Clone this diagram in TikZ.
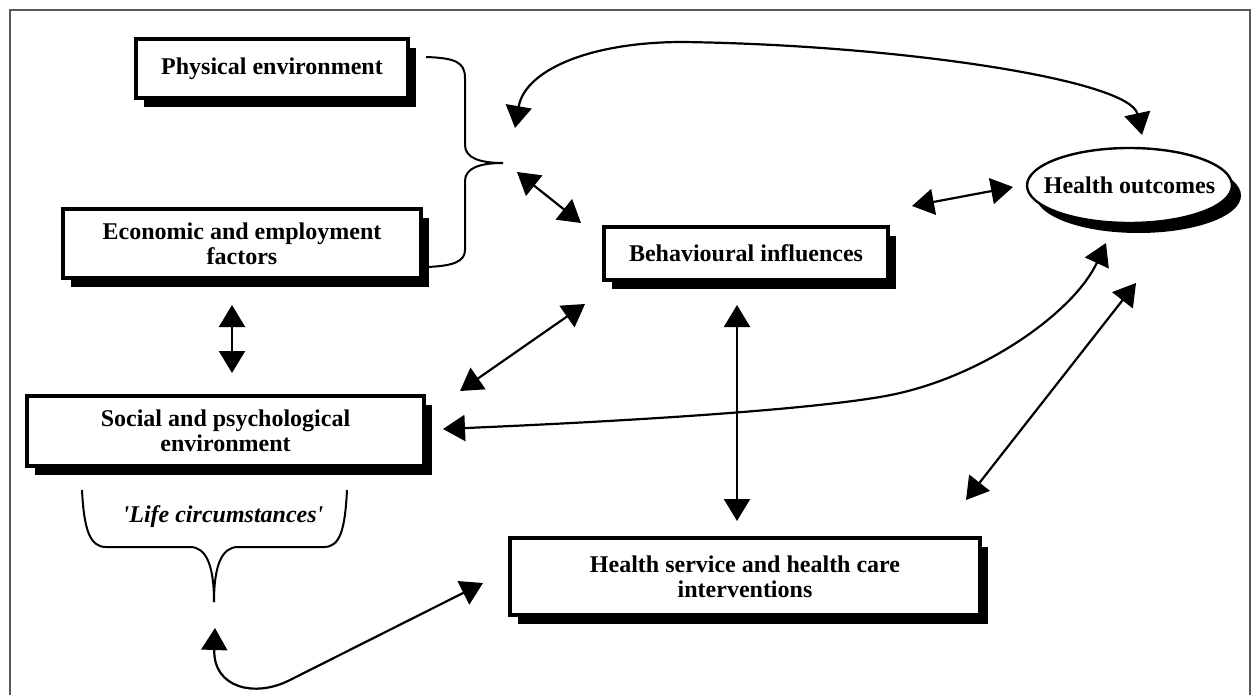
\documentclass[tikz,border=0pt]{standalone}
\usepackage{fontspec}
\setmainfont{Liberation Serif}
\usetikzlibrary{arrows.meta,shadows,shapes.geometric}
\begin{document}
\begin{tikzpicture}[x=0.5pt,y=-0.5pt,
    font=\fontsize{12}{12.5}\selectfont\bfseries,
    >={Triangle[width=13pt,length=11pt]},
    box/.style={draw,line width=1.6pt,fill=white,align=center,
      drop shadow={shadow xshift=4pt,shadow yshift=-4.5pt,fill=black,opacity=1}},
    outcome/.style={ellipse,draw,line width=1.2pt,fill=white,inner sep=0pt,
      drop shadow={shadow xshift=4.5pt,shadow yshift=-5pt,fill=black,opacity=1}},
    link/.style={<->,line width=1.1pt},
    brace/.style={line width=1pt}]
    \useasboundingbox (0,0) rectangle (1257,695);
    \draw [gray!70!black,line width=0.6pt] (10,695) -- (10,10) -- (1250,10) -- (1250,695);
    % boxes
    \node [box,minimum width=136pt,minimum height=29.5pt] (physical) at (272,68.5) {Physical environment};
    \node [box,minimum width=179pt,minimum height=34.5pt] (economic) at (242,243.5) {Economic and employment\\factors};
    \node [box,minimum width=198.5pt,minimum height=35pt] (social) at (225.5,431) {Social and psychological\\environment};
    \node [box,minimum width=142pt,minimum height=26.5pt] (behav) at (746,253.5) {Behavioural influences};
    \node [box,minimum width=235pt,minimum height=38.5pt] (service) at (745,576.5) {Health service and health care\\interventions};
    \node [outcome,minimum width=102.5pt,minimum height=37.5pt,label=center:{Health outcomes}] (outcomes) at (1129.5,185.5) {};
    % braces
    \draw [brace] (426,57) .. controls (455,58) and (465,62) .. (465,78) -- (465,145)
        .. controls (465,158) and (480,163) .. (503,163) coordinate (btip)
        .. controls (480,163) and (465,168) .. (465,181) -- (465,250)
        .. controls (465,262) and (452,266) .. (427,267);
    \draw [brace] (82,490) .. controls (84,530) and (90,547) .. (106,547) -- (190,547)
        .. controls (206,547) and (214,565) .. (214,602) coordinate (ltip);
    \draw [brace] (347,490) .. controls (345,530) and (340,547) .. (324,547) -- (238,547)
        .. controls (222,547) and (214,565) .. (214,602);
    \node [font=\fontsize{12}{12.5}\selectfont\bfseries\itshape] (life) at (223,517) {\textquotesingle Life circumstances\textquotesingle};
    % arrow ends
    \coordinate (topL) at (515,128);
    \coordinate (topR) at (1142,135);
    \coordinate (braceA) at (517,172);
    \coordinate (behavA) at (581,223);
    \coordinate (behavB) at (912,206);
    \coordinate (outA) at (1013,187);
    \coordinate (ecoA) at (232,305);
    \coordinate (socA) at (232,373);
    \coordinate (behavC) at (585,304);
    \coordinate (socB) at (460,391);
    \coordinate (behavD) at (737,305);
    \coordinate (servA) at (737,521);
    \coordinate (outB) at (1106,243);
    \coordinate (socC) at (443,429);
    \coordinate (outC) at (1136,283);
    \coordinate (servB) at (966,500);
    \coordinate (lifeA) at (215,628);
    \coordinate (servC) at (483,583);
    % connectors
    \draw [link] (topL) .. controls (525,70) and (590,42) .. (683,42)
        .. controls (900,45) and (1130,80) .. (topR);
    \draw [link] (braceA) -- (behavA);
    \draw [link] (behavB) -- (outA);
    \draw [link] (ecoA) -- (socA);
    \draw [link] (behavC) -- (socB);
    \draw [link] (behavD) -- (servA);
    \draw [link] (socC) .. controls (700,418) and (850,405) .. (900,393)
        .. controls (990,372) and (1075,310) .. (outB);
    \draw [link] (outC) -- (servB);
    \draw [link] (lifeA) .. controls (213,688) and (255,698) .. (290,680) -- (servC);
\end{tikzpicture}
\end{document}
